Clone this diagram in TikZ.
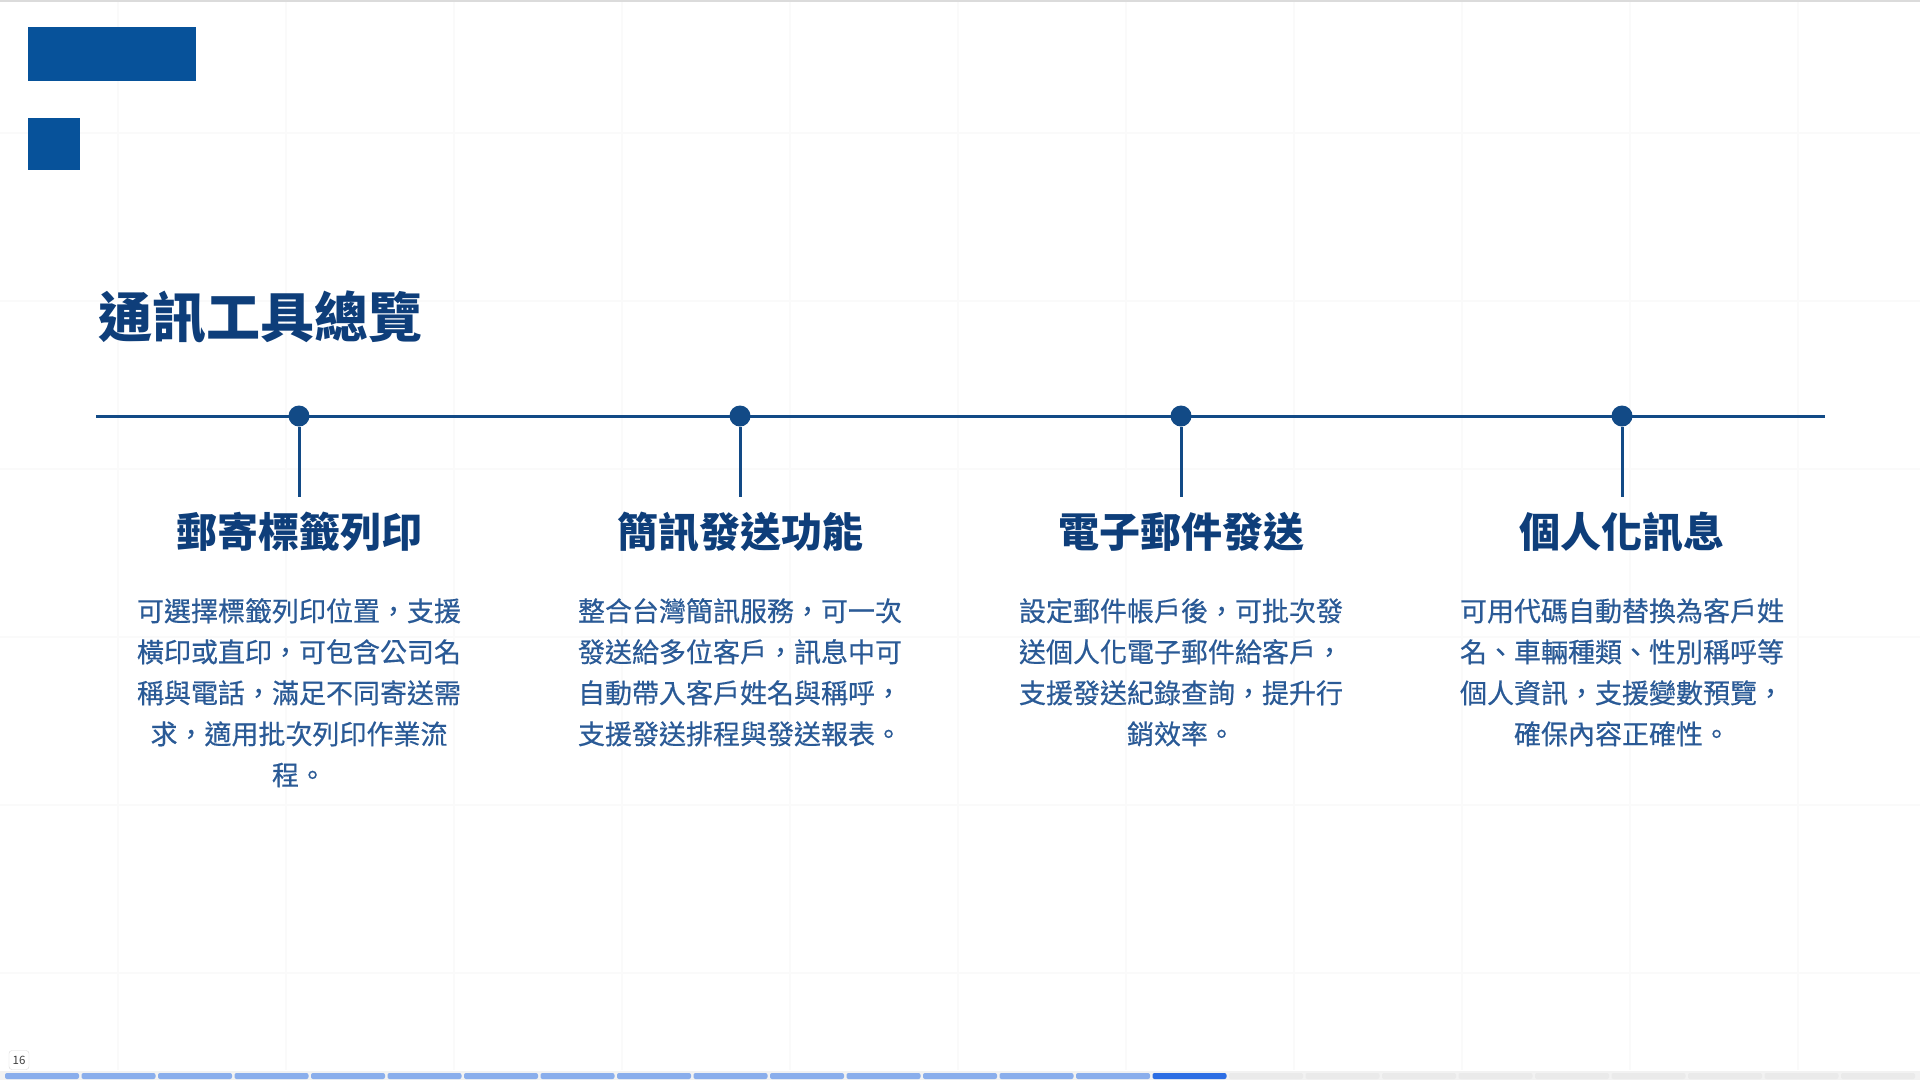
\documentclass[tikz,border=0pt]{standalone}
\usepackage{fontspec}
\setmainfont{Noto Sans CJK TC}
\newfontfamily\bodyfont{Noto Sans CJK TC}[FakeBold=0.5]
\usetikzlibrary{positioning}
\definecolor{blockblue}{RGB}{7,82,154}
\definecolor{navy}{RGB}{14,62,122}
\definecolor{linenavy}{RGB}{18,74,134}
\definecolor{bodyblue}{RGB}{42,90,150}
\definecolor{barlight}{RGB}{138,174,236}
\definecolor{baractive}{RGB}{45,110,228}
\definecolor{bargray}{RGB}{234,234,234}
\begin{document}
\begin{tikzpicture}[x=1pt, y=-1pt,
    gridline/.style={line width=1.2pt, black!2},
    tline/.style={line width=3pt, linenavy},
    stem/.style={line width=3pt, linenavy},
    dot/.style={circle, fill=linenavy, inner sep=0pt, minimum size=21pt},
    title/.style={font=\bfseries\fontsize{54}{60}\selectfont, text=navy, inner sep=0pt},
    head/.style={font=\bfseries\fontsize{41}{47}\selectfont, text=navy, inner sep=0pt},
    body/.style={font=\bodyfont\fontsize{27}{41}\selectfont, text=bodyblue, align=center, inner sep=0pt},
    pagebadge/.style={draw=black!15, fill=white, rounded corners=3pt, inner sep=0pt,
        minimum width=20pt, minimum height=19pt, font=\fontsize{11.5}{11.5}\selectfont, text=black!75}]
    \useasboundingbox (0,0) rectangle (1920,1080);
    % Nền lưới mờ
    \fill[white] (0,0) rectangle (1920,1080);
    \foreach \gx in {118,286,...,1920} \draw[gridline] (\gx,0) -- (\gx,1070);
    \foreach \gy in {133,301,...,1070} \draw[gridline] (0,\gy) -- (1920,\gy);
    \draw[line width=2pt, black!14] (0,1) -- (1920,1);
    % Khối trang trí góc trái
    \fill[blockblue] (28,27) rectangle (196,81);
    \fill[blockblue] (28,118) rectangle (80,170);
    % Tiêu đề
    \node[title, anchor=west] (title) at (98,317) {通訊工具總覽};
    % Trục thời gian
    \coordinate (tl) at (96,416);
    \coordinate (tr) at (1825,416);
    \draw[tline] (tl) -- (tr);
    \node[dot] (d1) at (299,416) {};
    \node[dot] (d2) at (740,416) {};
    \node[dot] (d3) at (1181,416) {};
    \node[dot] (d4) at (1622,416) {};
    \coordinate (s1) at (299,497);
    \coordinate (s2) at (740,497);
    \coordinate (s3) at (1181,497);
    \coordinate (s4) at (1622,497);
    \draw[stem] (d1) -- (s1);
    \draw[stem] (d2) -- (s2);
    \draw[stem] (d3) -- (s3);
    \draw[stem] (d4) -- (s4);
    % Các mục
    \node[head] (h1) at (299,532) {郵寄標籤列印};
    \node[head] (h2) at (740,532) {簡訊發送功能};
    \node[head] (h3) at (1181,532) {電子郵件發送};
    \node[head] (h4) at (1622,532) {個人化訊息};
    \node[body, anchor=north] (b1) at (299,598)
        {可選擇標籤列印位置，支援\\橫印或直印，可包含公司名\\稱與電話，滿足不同寄送需\\求，適用批次列印作業流\\程。};
    \node[body, anchor=north] (b2) at (740,598)
        {整合台灣簡訊服務，可一次\\發送給多位客戶，訊息中可\\自動帶入客戶姓名與稱呼，\\支援發送排程與發送報表。};
    \node[body, anchor=north] (b3) at (1181,598)
        {設定郵件帳戶後，可批次發\\送個人化電子郵件給客戶，\\支援發送紀錄查詢，提升行\\銷效率。};
    \node[body, anchor=north] (b4) at (1622,598)
        {可用代碼自動替換為客戶姓\\名、車輛種類、性別稱呼等\\個人資訊，支援變數預覽，\\確保內容正確性。};
    % Thanh tiến độ
    \fill[black!5] (0,1071) rectangle (1920,1080);
    \foreach \i in {0,...,14}
        \fill[barlight, rounded corners=2pt] ({5+76.5*\i},1073) rectangle ({79+76.5*\i},1079);
    \fill[baractive, rounded corners=2pt] ({5+76.5*15},1073) rectangle ({79+76.5*15},1079);
    \foreach \i in {16,...,24}
        \fill[bargray, rounded corners=2pt] ({5+76.5*\i},1073) rectangle ({79+76.5*\i},1079);
    \node[pagebadge] (pg) at (19,1060) {16};
\end{tikzpicture}
\end{document}
